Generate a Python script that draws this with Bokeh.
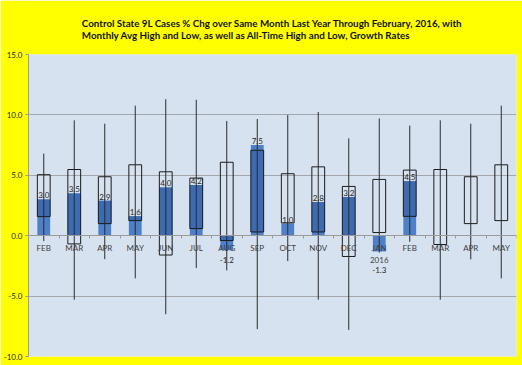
from bokeh.plotting import figure
from bokeh.models import FixedTicker, NumeralTickFormatter, Range1d
from bokeh.core.properties import value
from bokeh.embed import file_html
from bokeh.resources import INLINE

months = ["FEB", "MAR", "APR", "MAY", "JUN", "JUL", "AUG", "SEP", "OCT", "NOV",
          "DEC", "JAN\n2016", "FEB", "MAR", "APR", "MAY"]
growth = [3.0, 3.5, 2.9, 1.6, 4.0, 4.2, -1.2, 7.5, 1.0, 2.8, 3.2, -1.3, 4.5, None, None, None]
avg_high = [5.05, 5.48, 4.88, 5.87, 5.29, 4.77, 6.08, 7.07, 5.13, 5.70, 4.08, 4.66, 5.43, 5.48, 4.88, 5.87]
avg_low = [1.58, -0.68, 1.00, 1.25, -1.60, 0.59, -0.40, 0.31, 1.06, 0.31, -1.72, 0.26, 1.60, -0.73, 1.00, 1.25]
all_high = [6.8, 9.55, 9.27, 10.76, 11.3, 11.25, 9.5, 9.66, 9.99, 10.24, 8.06, 9.71, 9.11, 9.55, 9.27, 10.76]
all_low = [-0.45, -5.3, -1.94, -3.53, -6.5, -2.68, -2.87, -7.73, -2.1, -5.29, -7.8, -1.4, -0.5, -5.3, -1.96, -3.53]
y_ticks = [-10, -5, 0, 5, 10, 15]

title_lines = ["Control State 9L Cases % Chg over Same Month Last Year Through February, 2016, with",
               "Monthly Avg High and Low, as well as All-Time High and Low,  Growth Rates"]

n = len(months)
xc = [i + 0.5 for i in range(n)]

FONT = "Lato"
YELLOW = "#FFFF00"
PLOT_BG = "#D7E2F0"
GRID = "#A3A7AD"

p = figure(width=522, height=365, output_backend="svg", toolbar_location=None,
           x_range=Range1d(0, n), y_range=Range1d(-10, 15),
           min_border_left=28, min_border_right=6, min_border_top=52, min_border_bottom=9)
p.background_fill_color = PLOT_BG
p.border_fill_color = YELLOW
p.outline_line_color = None

p.title.text = "\n".join(title_lines)
p.title.align = "center"
p.title.text_font = FONT
p.title.text_font_style = "bold"
p.title.text_font_size = "9.8px"
p.title.text_line_height = 1.0
p.title.text_color = "#111111"
p.title.standoff = 28

# bars (growth), lighter where outside the avg band, darker inside
gx, gtop, gbot = [], [], []
ox, otop, obot = [], [], []
for i, g in enumerate(growth):
    if g is None:
        continue
    lo_b, hi_b = min(0, g), max(0, g)
    gx.append(xc[i]); gtop.append(hi_b); gbot.append(lo_b)
    t = min(hi_b, avg_high[i]); b = max(lo_b, avg_low[i])
    if t > b:
        ox.append(xc[i]); otop.append(t); obot.append(b)

p.vbar(x=gx, top=gtop, bottom=gbot, width=0.42, fill_color="#4C80C9", line_color=None)
p.vbar(x=ox, top=otop, bottom=obot, width=0.42, fill_color="#3C6BB1", line_color=None)

# avg high/low boxes
p.vbar(x=xc, top=avg_high, bottom=avg_low, width=0.42, fill_color=None,
       line_color="#1A1A1A", line_width=1)

# all-time whiskers
p.segment(x0=xc, y0=all_low, x1=xc, y1=all_high, line_color="#2B2B2B", line_width=1)

# data labels
pos = [(xc[i], g, f"{g:.1f}") for i, g in enumerate(growth) if g is not None and g >= 0]
p.text(x=[a[0] for a in pos], y=[a[1] for a in pos], text=[a[2] for a in pos],
       text_font=value(FONT), text_font_size="8px", text_color="#262626",
       text_align="center", text_baseline="bottom", y_offset=-1)
neg = [(xc[i], f"{g:.1f}", months[i].count("\n") + 1) for i, g in enumerate(growth)
       if g is not None and g < 0]
p.text(x=[a[0] for a in neg], y=[0] * len(neg), text=[a[1] for a in neg],
       text_font=value(FONT), text_font_size="8px", text_color="#262626",
       text_align="center", text_baseline="middle",
       y_offset=[14.5 + 10 * a[2] for a in neg])

# y axis
p.yaxis.ticker = FixedTicker(ticks=y_ticks)
p.yaxis.formatter = NumeralTickFormatter(format="0.0")
p.yaxis.axis_line_color = "#9A9A9A"
p.yaxis.major_tick_line_color = "#9A9A9A"
p.yaxis.major_tick_out = 3
p.yaxis.major_tick_in = 0
p.yaxis.minor_tick_line_color = None
p.yaxis.major_label_text_font = FONT
p.yaxis.major_label_text_font_size = "8px"
p.yaxis.major_label_text_color = "#262626"
p.yaxis.major_label_standoff = 3

p.ygrid.ticker = FixedTicker(ticks=y_ticks)
p.ygrid.grid_line_color = GRID
p.xgrid.grid_line_color = None

# x axis at zero
p.xaxis.fixed_location = 0
p.xaxis.ticker = FixedTicker(ticks=xc, minor_ticks=list(range(n + 1)))
p.xaxis.major_label_overrides = {x: m for x, m in zip(xc, months)}
p.xaxis.axis_line_color = "#9A9A9A"
p.xaxis.major_tick_line_color = None
p.xaxis.major_tick_out = 0
p.xaxis.major_tick_in = 0
p.xaxis.minor_tick_line_color = "#9A9A9A"
p.xaxis.minor_tick_out = 3
p.xaxis.minor_tick_in = 0
p.xaxis.major_label_text_font = FONT
p.xaxis.major_label_text_font_size = "8px"
p.xaxis.major_label_text_color = "#404040"
p.xaxis.major_label_standoff = 4

open("out.html", "w").write(file_html(p, INLINE))
